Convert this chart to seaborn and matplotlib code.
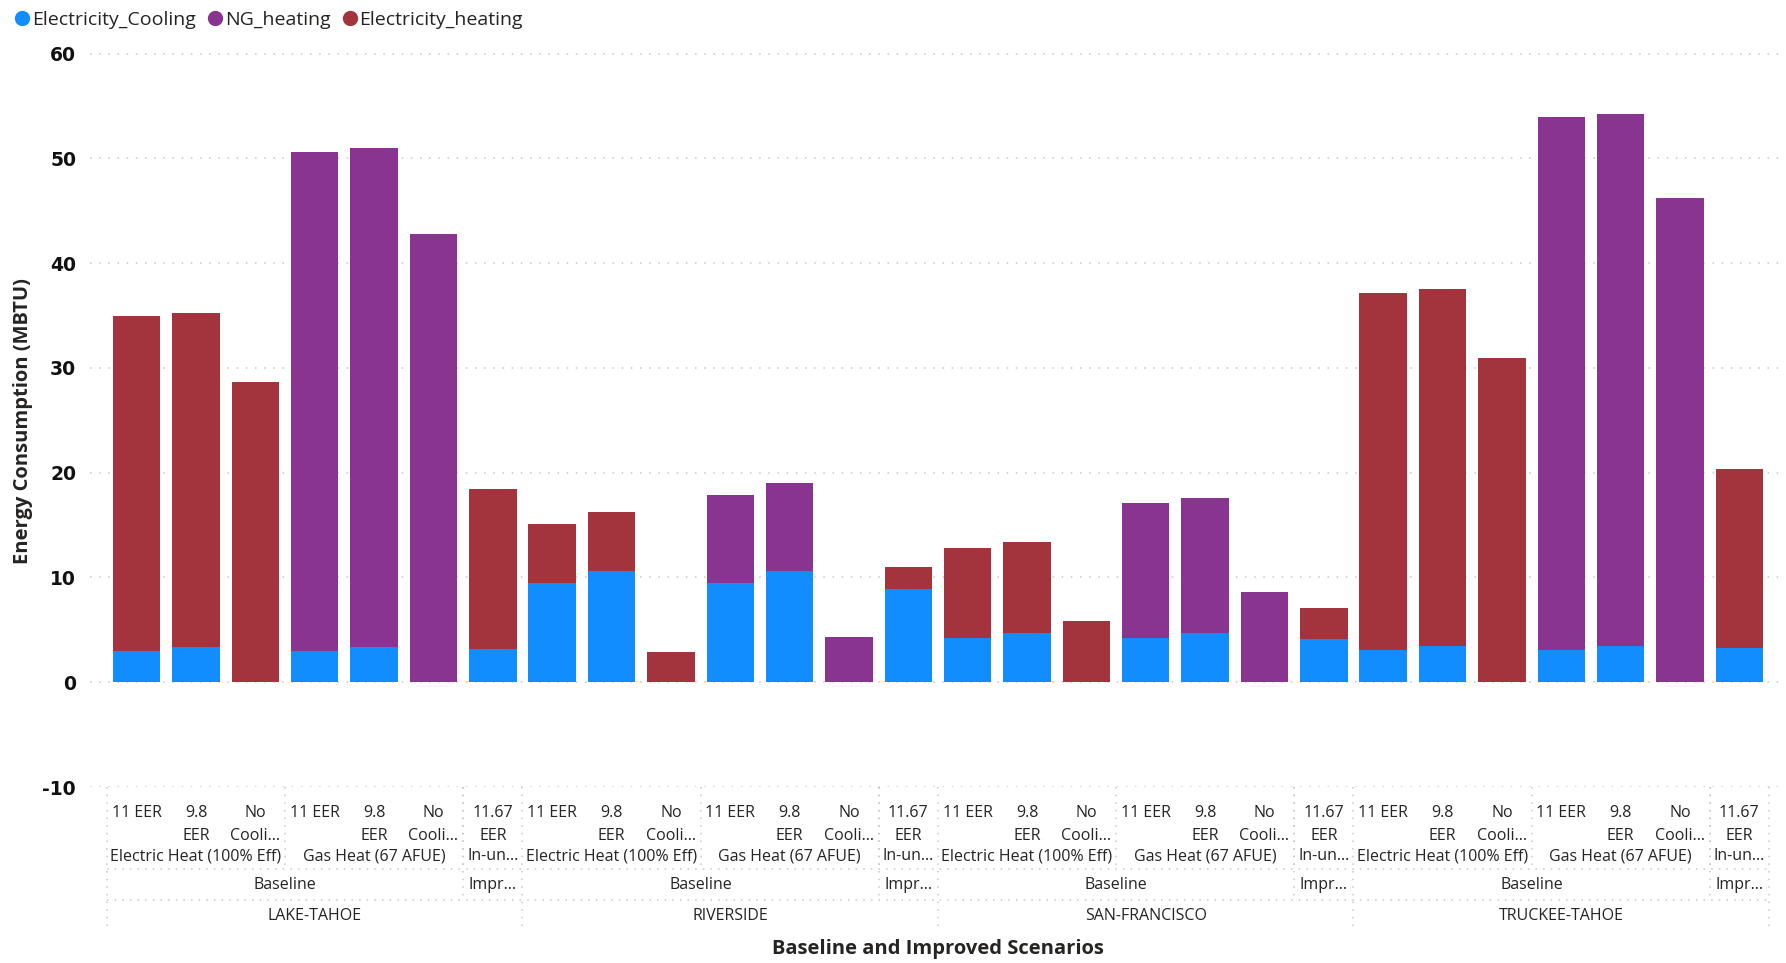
import numpy as np
import pandas as pd
import matplotlib
matplotlib.use("Agg")
import matplotlib.pyplot as plt
import matplotlib.transforms as mtransforms
from matplotlib.lines import Line2D
import seaborn as sns

# ---------------- data ----------------
cities = ["LAKE-TAHOE", "RIVERSIDE", "SAN-FRANCISCO", "TRUCKEE-TAHOE"]
scenario_labels = ["11 EER", "9.8\nEER", "No\nCooli...", "11 EER", "9.8\nEER", "No\nCooli...", "11.67\nEER"]
heating_groups = ["Electric Heat (100% Eff)", "Gas Heat (67 AFUE)", "In-un..."]
heating_group_sizes = [3, 3, 1]
scenario_groups = ["Baseline", "Impr..."]
scenario_group_sizes = [6, 1]

electricity_cooling = [3.00, 3.37, 0.00, 3.00, 3.37, 0.00, 3.15,
                       9.44, 10.62, 0.00, 9.44, 10.62, 0.00, 8.93,
                       4.18, 4.69, 0.00, 4.18, 4.69, 0.00, 4.08,
                       3.10, 3.48, 0.00, 3.10, 3.48, 0.00, 3.25]
ng_heating = [0.00, 0.00, 0.00, 47.62, 47.65, 42.76, 0.00,
              0.00, 0.00, 0.00, 8.39, 8.39, 4.27, 0.00,
              0.00, 0.00, 0.00, 12.92, 12.92, 8.61, 0.00,
              0.00, 0.00, 0.00, 50.83, 50.79, 46.22, 0.00]
electricity_heating = [31.93, 31.89, 28.64, 0.00, 0.00, 0.00, 15.25,
                       5.62, 5.58, 2.87, 0.00, 0.00, 0.00, 2.11,
                       8.67, 8.68, 5.81, 0.00, 0.00, 0.00, 2.97,
                       34.05, 34.01, 30.95, 0.00, 0.00, 0.00, 17.12]

series_names = ["Electricity_Cooling", "NG_heating", "Electricity_heating"]
colors = {"Electricity_Cooling": "#118DFF", "NG_heating": "#8A3492", "Electricity_heating": "#A3343E"}

# ---------------- frame ----------------
n_scen = len(scenario_labels)
ids = [f"{c}|{i}" for c in cities for i in range(n_scen)]
df = pd.DataFrame({
    "bar": ids,
    "cooling": electricity_cooling,
    "ng": ng_heating,
    "elec": electricity_heating,
})
df["total"] = df["cooling"] + df["ng"] + df["elec"]
df["heat"] = np.where(df["ng"] > 0, "NG_heating", "Electricity_heating")

# ---------------- style ----------------
sns.set_theme(style="white")
plt.rcParams["font.family"] = ["Open Sans", "DejaVu Sans"]

W, H = 1786, 963
fig = plt.figure(figsize=(W / 100, H / 100), dpi=100)
ax_left, ax_right = 90, 1784
ax_top, ax_bot = 53.5, 787
ax = fig.add_axes([ax_left / W, 1 - ax_bot / H, (ax_right - ax_left) / W, (ax_bot - ax_top) / H])

sns.barplot(data=df, x="bar", y="total", hue="heat", order=ids,
            hue_order=["NG_heating", "Electricity_heating"],
            palette=colors, dodge=False, width=0.8, saturation=1,
            errorbar=None, legend=False, linewidth=0, ax=ax, zorder=2)
sns.barplot(data=df, x="bar", y="cooling", order=ids, color=colors["Electricity_Cooling"],
            width=0.8, saturation=1, errorbar=None, linewidth=0, ax=ax, zorder=3)

slot_px = (1769 - 107) / 28
ax.set_xlim(-0.5 - (107 - ax_left) / slot_px, 27.5 + (ax_right - 1769) / slot_px)
ax.set_ylim(-10, 60)
ax.set_yticks(range(-10, 61, 10))
ax.set_yticklabels([str(v) for v in range(-10, 61, 10)],
                   fontdict={"family": "DejaVu Sans", "weight": "bold", "size": 13.5})
ax.tick_params(axis="y", length=0, pad=10, colors="#111111")
ax.set_xticks([])
ax.set_xlabel("")
ax.set_ylabel("")
for s in ax.spines.values():
    s.set_visible(False)
ax.yaxis.grid(True, color="#C8C8C8", linestyle=(0, (1, 5)), linewidth=1.1, zorder=0)
ax.set_axisbelow(True)

# ---------------- hierarchical x-axis ----------------
tr = mtransforms.blended_transform_factory(ax.transData, ax.transAxes)
axh = ax_bot - ax_top


def yax(p):
    return (ax_bot - p) / axh


txt_color = "#252423"
fs = 11.5
line_kw = dict(color="#C8C8C8", linestyle=(0, (1, 4)), linewidth=1.1, transform=tr, clip_on=False)

y_l1, y_l2, y_heat, y_scen, y_city = 813, 836, 856, 885, 916
y_sep1, y_sep2, y_bottom = 869, 900, 931

for ci, city in enumerate(cities):
    base = ci * n_scen
    for si, lab in enumerate(scenario_labels):
        x = base + si
        parts = lab.split("\n")
        ax.text(x, yax(y_l1), parts[0], transform=tr, ha="center", va="center",
                fontsize=fs, color=txt_color)
        if len(parts) > 1:
            ax.text(x, yax(y_l2), parts[1], transform=tr, ha="center", va="center",
                    fontsize=fs, color=txt_color)
    # heating groups
    start = base
    for g, n in zip(heating_groups, heating_group_sizes):
        ax.text(start + (n - 1) / 2, yax(y_heat), g, transform=tr, ha="center", va="center",
                fontsize=fs, color=txt_color)
        if start != base:
            ax.plot([start - 0.5, start - 0.5], [yax(ax_bot), yax(y_sep1)], **line_kw)
        start += n
    # scenario groups
    start = base
    for g, n in zip(scenario_groups, scenario_group_sizes):
        ax.text(start + (n - 1) / 2, yax(y_scen), g, transform=tr, ha="center", va="center",
                fontsize=fs, color=txt_color)
        if start != base:
            ax.plot([start - 0.5, start - 0.5], [yax(ax_bot), yax(y_sep2)], **line_kw)
        start += n
    ax.text(base + (n_scen - 1) / 2, yax(y_city), city, transform=tr, ha="center", va="center",
            fontsize=fs, color=txt_color)
    ax.plot([base - 0.5, base - 0.5], [yax(ax_bot), yax(y_bottom)], **line_kw)
ax.plot([len(ids) - 0.5, len(ids) - 0.5], [yax(ax_bot), yax(y_bottom)], **line_kw)
for yy in (y_sep1, y_sep2):
    ax.plot([-0.5, len(ids) - 0.5], [yax(yy), yax(yy)], **line_kw)

ax.text(0.5 * (len(ids) - 1), yax(949), "Baseline and Improved Scenarios", transform=tr,
        ha="center", va="center", fontsize=14.5, fontweight="bold", color=txt_color)

fig.text(23 / W, 1 - 421 / H, "Energy Consumption (MBTU)", rotation=90, ha="center", va="center",
         fontsize=14.5, fontweight="bold", color=txt_color)

# ---------------- legend ----------------
handles = [Line2D([0], [0], marker="o", linestyle="", markersize=10,
                  markerfacecolor=colors[s], markeredgecolor=colors[s]) for s in series_names]
fig.legend(handles, series_names, loc="upper left", bbox_to_anchor=(-0.004, 1.007), ncol=3,
           frameon=False, handletextpad=-0.1, columnspacing=0.4, handlelength=1.2,
           prop={"family": "Open Sans", "size": 14}, labelcolor=txt_color)

fig.savefig("out.png", dpi=100)
